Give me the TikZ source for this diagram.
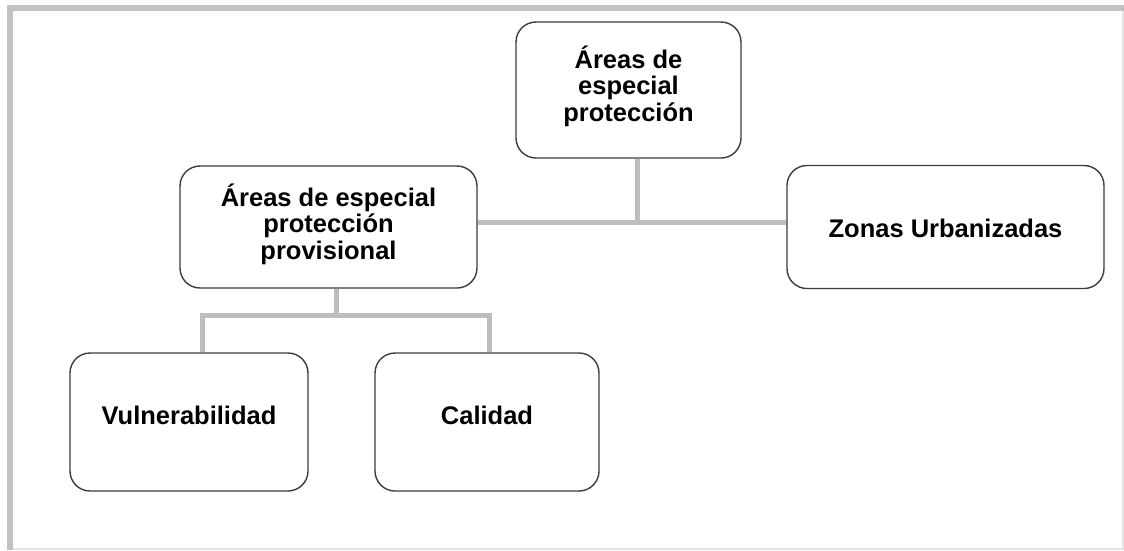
\documentclass[tikz,border=0pt]{standalone}
\usepackage{fontspec}
\setmainfont{Liberation Sans}
\definecolor{frameg}{HTML}{C2C2C2}
\definecolor{framel}{HTML}{E4E4E4}
\definecolor{conng}{HTML}{BDBDBD}
\definecolor{boxg}{HTML}{3C3C3C}
\begin{document}
\begin{tikzpicture}[x=1pt,y=-1pt,
  box/.style={draw=boxg, line width=1.4pt, rounded corners=20pt, fill=white, inner sep=0pt},
  lbl/.style={align=center, inner sep=0pt, text=black, font={\fontsize{25.5}{26.5}\selectfont\bfseries}},
  conn/.style={draw=conng, line width=5pt, line join=miter},
  frametop/.style={draw=frameg, line width=6pt},
  framelight/.style={draw=framel, line width=1.5pt}]
\useasboundingbox (0,0) rectangle (1124,550);
% frame
\draw[framelight] (1123,8) -- (1123,549) -- (10,549);
\draw[frametop] (7,8) -- (1124,8);
\draw[frametop] (10,5) -- (10,550);
% junction coordinates
\coordinate (j1) at (637,222);
\coordinate (j2) at (336,315.5);
\coordinate (jv) at (202,315.5);
\coordinate (jc) at (489,315.5);
% boxes
\node[box, minimum width=225pt, minimum height=136pt] (top) at (628.5,90) {};
\node[box, minimum width=297pt, minimum height=122pt] (left) at (328.5,227) {};
\node[box, minimum width=317pt, minimum height=123pt] (zonas) at (945.5,227) {};
\node[box, minimum width=238pt, minimum height=138pt] (vul) at (189,422) {};
\node[box, minimum width=224pt, minimum height=138pt] (cal) at (487,422) {};
% connectors
\draw[conn] (j1 |- top.south) -- (j1);
\draw[conn] (left.east |- j1) -- (zonas.west |- j1);
\draw[conn] (j2 |- left.south) -- (j2);
\draw[conn] (jv |- vul.north) -- (jv) -- (jc) -- (jc |- cal.north);
% labels
\node[lbl] (toptxt) at (628.5,86) {Áreas de\\especial\\protección};
\node[lbl] (lefttxt) at (328.5,224) {Áreas de especial\\protección\\provisional};
\node[lbl] (zonastxt) at (945.5,228) {Zonas Urbanizadas};
\node[lbl] (vultxt) at (189,415) {Vulnerabilidad};
\node[lbl] (caltxt) at (487,415) {Calidad};
\end{tikzpicture}
\end{document}
